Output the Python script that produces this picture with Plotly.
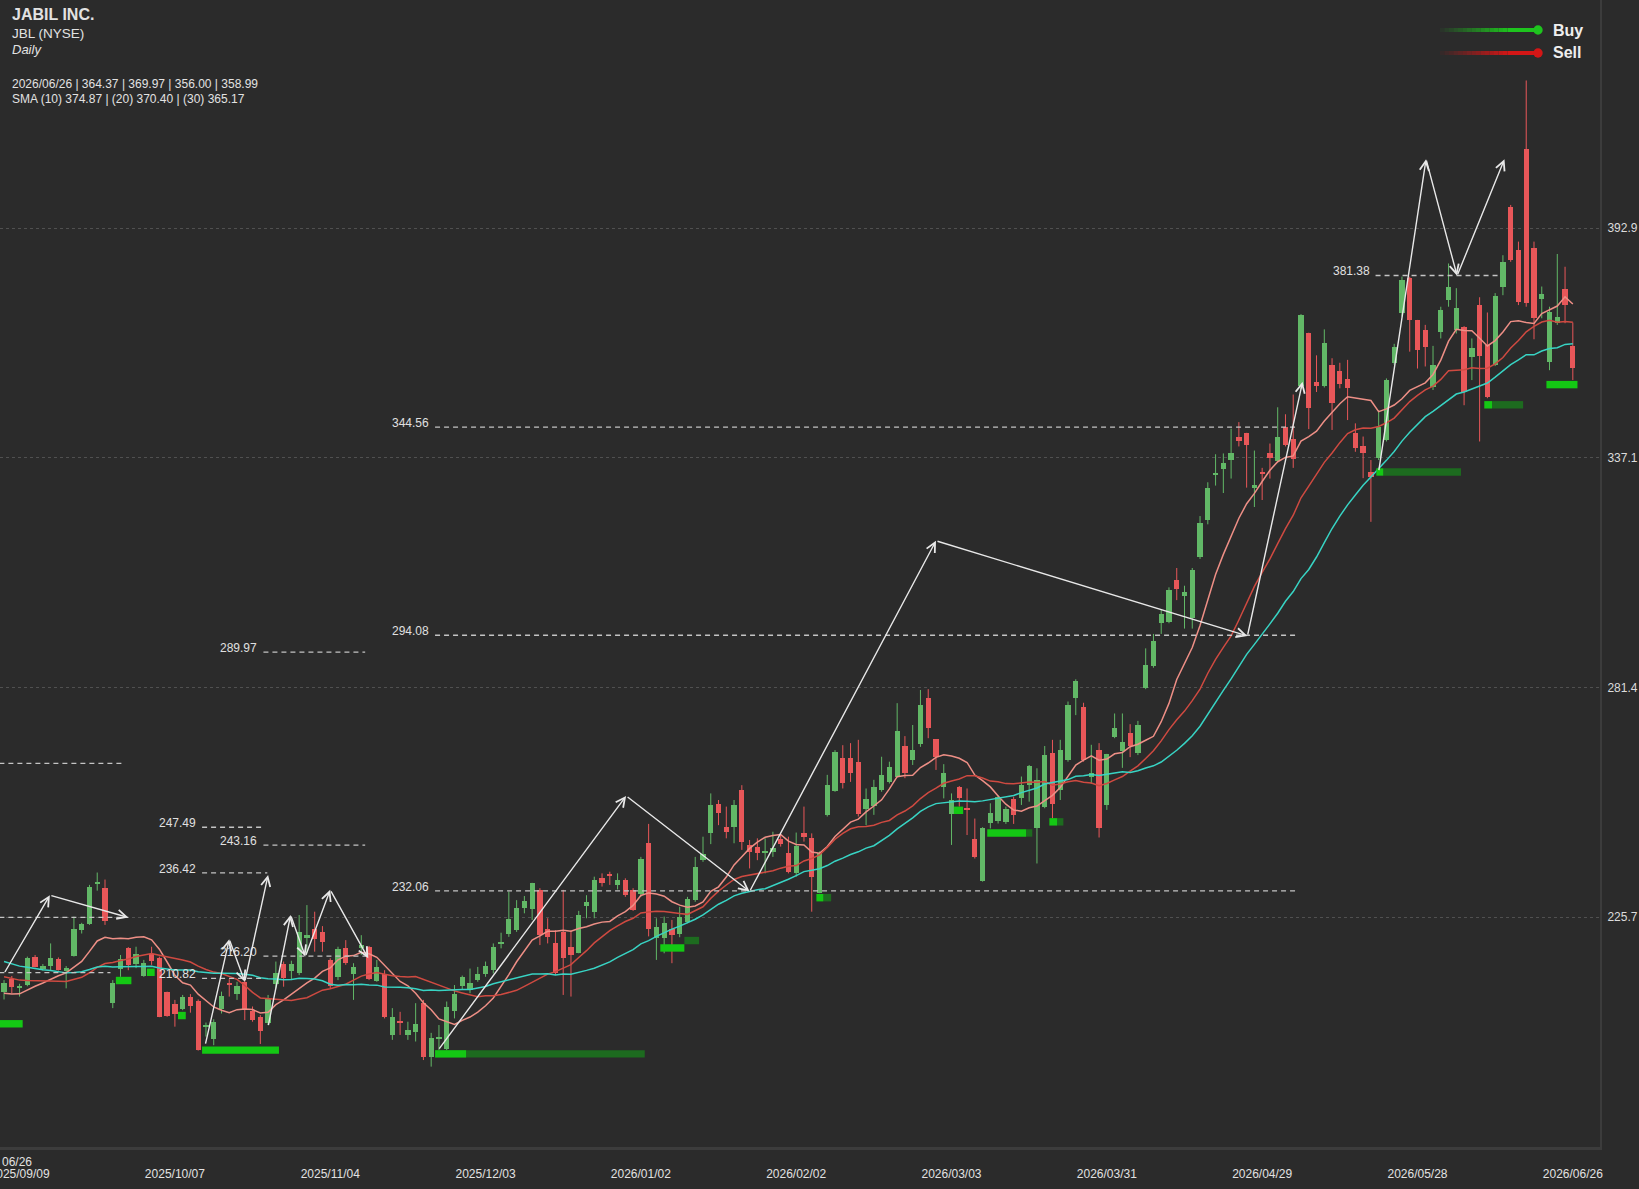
import numpy as np
import plotly.graph_objects as go

# ---------------- data ----------------
tick_labels = ["2025/09/09", "2025/10/07", "2025/11/04", "2025/12/03", "2026/01/02", "2026/02/02",
               "2026/03/03", "2026/03/31", "2026/04/29", "2026/05/28", "2026/06/26"]
tick_positions = [2, 22, 42, 62, 82, 102, 122, 142, 162, 182, 202]
price_ticks = [225.7, 281.4, 337.1, 392.9]
price_tick_text = ["225.7", "281.4", "337.1", "392.9"]

opens = [
    207.6, 210.6, 208.4, 209.2, 216.1, 213.0, 213.8, 215.4, 212.6, 216.2,
    222.6, 224.0, 233.6, 232.7, 204.9, 213.0, 218.1, 214.3, 211.4, 216.7,
    215.7, 207.4, 204.6, 203.5, 206.4, 205.4, 199.0, 196.0, 203.3, 209.8,
    207.0, 210.0, 203.0, 201.4, 199.9, 209.5, 214.3, 212.7, 212.2, 220.5,
    222.7, 222.1, 215.3, 211.2, 218.3, 211.9, 218.1, 218.4, 210.3, 211.9,
    197.1, 200.5, 197.1, 197.9, 204.8, 191.8, 196.0, 193.8, 203.0, 209.0,
    208.0, 210.4, 211.9, 212.8, 219.2, 221.7, 222.6, 228.0, 227.6, 232.3,
    222.9, 219.5, 222.1, 218.5, 217.0, 228.4, 227.0, 235.1, 236.1, 233.5,
    234.7, 232.3, 231.4, 243.6, 220.5, 220.5, 222.7, 221.7, 224.6, 229.8,
    239.5, 246.0, 253.1, 247.5, 247.5, 256.5, 243.2, 242.8, 241.3, 241.6,
    244.6, 241.2, 236.3, 246.2, 244.8, 231.5, 250.5, 256.4, 264.2, 264.2,
    263.4, 251.8, 252.6, 256.5, 258.5, 259.8, 267.2, 263.8, 267.7, 278.8,
    268.8, 257.3, 250.7, 257.3, 251.9, 244.6, 234.5, 248.6, 249.1, 248.8,
    254.3, 254.5, 257.7, 247.2, 252.5, 265.4, 256.5, 263.8, 278.8, 276.7,
    259.8, 266.2, 252.8, 269.5, 266.1, 270.4, 265.5, 281.4, 286.6, 297.0,
    297.3, 307.6, 303.7, 298.3, 313.0, 322.1, 333.0, 334.5, 336.6, 342.2,
    343.2, 329.7, 333.8, 338.2, 336.4, 344.7, 341.6, 354.6, 367.5, 355.5,
    354.6, 359.7, 358.3, 356.2, 343.1, 340.0, 333.8, 337.0, 341.4, 360.1,
    372.2, 380.7, 370.6, 368.2, 354.4, 367.7, 375.4, 368.1, 369.0, 361.7,
    374.2, 364.5, 359.7, 378.7, 398.1, 387.6, 412.0, 388.0, 375.6, 360.5,
    369.8, 378.0, 364.37,
]
highs = [
    210.4, 211.4, 209.5, 216.1, 216.5, 214.3, 219.3, 215.9, 213.8, 225.8,
    224.3, 233.5, 236.5, 234.8, 210.4, 216.5, 218.4, 218.5, 215.3, 218.5,
    216.1, 207.6, 205.6, 206.8, 207.0, 205.7, 200.1, 200.9, 207.6, 210.6,
    210.0, 210.6, 204.0, 201.9, 206.8, 214.9, 214.9, 215.1, 226.2, 228.6,
    227.0, 223.5, 215.7, 218.5, 220.1, 214.5, 221.3, 218.7, 215.3, 212.8,
    203.6, 202.7, 200.3, 204.8, 205.6, 197.6, 199.5, 205.2, 209.2, 211.5,
    213.2, 213.6, 214.9, 219.3, 221.9, 231.9, 229.8, 230.8, 234.0, 232.7,
    225.4, 222.5, 232.3, 222.5, 227.2, 231.0, 235.5, 236.3, 236.7, 236.3,
    235.1, 232.7, 240.3, 248.3, 225.4, 225.8, 225.0, 228.2, 230.6, 240.3,
    245.2, 255.7, 254.1, 252.5, 254.1, 257.7, 244.4, 244.8, 244.8, 246.4,
    245.6, 245.2, 246.2, 252.5, 246.0, 241.6, 260.2, 266.2, 267.4, 267.9,
    268.7, 256.9, 259.0, 264.6, 263.4, 277.6, 269.6, 272.3, 280.8, 281.0,
    268.8, 262.8, 255.7, 257.5, 256.9, 249.6, 247.5, 253.3, 255.3, 252.5,
    254.9, 259.8, 262.6, 261.8, 267.2, 268.7, 268.7, 278.0, 283.4, 277.7,
    267.5, 267.9, 265.3, 275.1, 275.1, 272.5, 273.3, 290.9, 294.4, 300.4,
    305.7, 310.4, 306.1, 310.4, 323.0, 331.2, 338.0, 338.2, 344.2, 345.8,
    343.2, 338.9, 334.7, 340.6, 349.4, 347.7, 352.5, 372.0, 367.5, 362.0,
    368.3, 361.3, 360.2, 360.9, 345.5, 342.3, 336.6, 348.7, 356.4, 364.8,
    381.1, 381.1, 370.6, 369.4, 364.3, 373.8, 384.3, 378.3, 369.1, 366.1,
    376.1, 372.4, 377.1, 386.3, 398.5, 389.6, 428.7, 389.6, 378.7, 373.8,
    386.6, 383.5, 369.97,
]
lows = [
    205.7, 207.2, 206.4, 208.9, 213.5, 212.7, 212.8, 212.7, 208.4, 216.1,
    221.7, 223.8, 232.1, 223.8, 203.6, 211.2, 212.8, 213.3, 211.2, 214.1,
    201.4, 201.5, 199.1, 203.1, 202.5, 193.3, 196.7, 194.6, 202.3, 206.4,
    205.6, 200.7, 200.3, 194.9, 199.5, 208.4, 208.8, 210.4, 211.6, 216.9,
    217.3, 217.3, 208.4, 210.4, 214.1, 205.6, 216.5, 210.4, 210.0, 201.1,
    195.9, 197.1, 195.9, 195.5, 191.0, 189.4, 193.4, 193.4, 201.1, 208.0,
    207.2, 210.0, 211.2, 212.0, 218.1, 220.9, 222.1, 226.6, 225.0, 218.9,
    219.3, 211.6, 206.8, 206.4, 216.9, 225.4, 225.4, 233.1, 233.5, 232.4,
    230.6, 227.2, 230.6, 221.0, 215.3, 216.9, 214.5, 220.8, 224.2, 229.4,
    239.1, 243.4, 248.0, 244.8, 243.6, 242.0, 237.5, 239.5, 236.3, 240.3,
    242.8, 236.3, 235.5, 244.0, 227.0, 231.5, 250.1, 256.1, 256.9, 258.5,
    250.1, 248.0, 250.5, 256.1, 258.1, 259.6, 259.4, 262.6, 267.0, 269.1,
    261.4, 254.5, 243.2, 252.5, 245.6, 239.9, 234.3, 247.2, 248.4, 248.3,
    248.3, 252.9, 253.7, 238.7, 252.1, 249.6, 254.1, 263.4, 274.7, 263.4,
    258.0, 245.0, 251.7, 269.1, 261.9, 264.5, 265.0, 281.0, 286.2, 294.4,
    297.0, 302.6, 295.7, 295.7, 312.6, 321.0, 330.4, 328.6, 332.1, 339.9,
    329.9, 325.2, 326.9, 332.1, 336.4, 339.9, 334.7, 353.8, 344.1, 353.1,
    354.2, 343.9, 354.0, 346.3, 338.6, 332.2, 321.6, 336.6, 341.1, 359.7,
    371.4, 362.9, 358.8, 359.3, 353.6, 366.1, 373.8, 367.3, 349.9, 356.0,
    341.1, 351.6, 359.4, 376.6, 384.7, 374.2, 373.8, 365.9, 371.0, 358.4,
    369.4, 369.8, 356.00,
]
closes = [
    209.8, 208.8, 208.9, 215.7, 213.7, 213.8, 215.7, 212.8, 213.4, 222.7,
    224.0, 232.9, 234.3, 224.7, 209.8, 215.4, 214.1, 216.7, 214.6, 215.1,
    201.5, 201.7, 202.2, 206.4, 204.1, 193.4, 199.5, 200.3, 206.5, 209.2,
    209.0, 203.3, 200.7, 198.1, 205.7, 212.2, 210.8, 214.3, 222.1, 221.3,
    220.3, 219.7, 209.0, 217.9, 214.5, 213.5, 218.9, 210.6, 213.5, 201.4,
    201.5, 199.9, 198.4, 199.7, 191.8, 196.3, 196.7, 203.8, 207.0, 211.2,
    209.6, 211.9, 213.8, 218.5, 219.7, 225.2, 227.8, 229.6, 233.9, 221.3,
    220.8, 212.2, 215.7, 216.5, 226.2, 229.4, 234.7, 234.0, 235.6, 234.7,
    231.0, 227.4, 239.9, 222.7, 223.4, 224.2, 221.3, 225.8, 230.2, 237.9,
    241.0, 252.9, 250.9, 246.4, 252.9, 244.0, 241.6, 241.2, 241.8, 242.4,
    243.4, 236.7, 242.9, 245.2, 235.5, 241.2, 257.7, 265.8, 258.3, 260.6,
    250.7, 254.3, 257.2, 260.2, 262.0, 270.9, 260.6, 266.2, 277.2, 271.5,
    264.5, 260.7, 254.1, 254.7, 251.7, 240.3, 247.2, 250.9, 254.9, 251.8,
    250.5, 257.7, 262.3, 259.0, 265.0, 253.1, 266.2, 277.2, 283.1, 263.8,
    260.7, 247.2, 265.2, 271.6, 268.1, 267.1, 272.3, 286.9, 292.7, 299.2,
    305.1, 305.4, 304.5, 309.8, 321.3, 329.9, 333.2, 336.0, 338.3, 341.2,
    340.3, 330.5, 333.3, 337.1, 342.1, 340.3, 336.9, 371.8, 349.3, 354.6,
    365.0, 350.5, 355.0, 354.0, 339.4, 338.2, 332.6, 344.7, 356.0, 364.1,
    380.3, 370.6, 363.3, 364.1, 359.7, 373.0, 378.7, 373.4, 353.2, 363.7,
    361.8, 352.0, 376.3, 384.7, 385.1, 375.0, 374.6, 371.0, 377.0, 372.6,
    371.4, 374.2, 358.99,
]
# closes before the visible window (only feed the moving averages)
warmup_closes = [
    226.5, 224.8, 223.1, 224.0, 222.6, 221.3, 222.8, 220.4, 219.7, 218.1,
    217.6, 216.2, 218.0, 215.4, 214.1, 215.8, 213.9, 214.6, 212.7, 213.7,
    210.8, 208.3, 206.1, 204.9, 205.7, 206.2, 205.0, 206.4, 208.8,
]
sma_periods = [10, 20, 30]

# horizontal price levels (dashed)
level_price = [289.97, 243.16, 216.20, 247.49, 236.42, 210.82, 294.08, 344.56, 232.06, 381.38, 263.0, 225.6, 212.2]
level_start = [33.4, 33.4, 33.4, 25.5, 25.5, 25.5, 55.5, 55.5, 55.5, 176.6, -0.6, -0.6, -0.6]
level_end = [46.5, 46.5, 46.7, 33.2, 33.9, 33.4, 166.5, 166.5, 166.5, 192.7, 15.3, 16.0, 13.7]
level_label = ["289.97", "243.16", "216.20", "247.49", "236.42", "210.82", "294.08", "344.56", "232.06", "381.38", "", "", ""]

# zig-zag pivot paths
zigzag_x = [
    [0.0, 5.9, 16.0],
    [25.9, 29.0, 31.0, 34.0],
    [34.0, 36.9, 38.8, 42.0, 46.9],
    [55.9, 80.1, 96.0, 120.0, 160.1, 167.2],
    [177.0, 183.1, 187.1, 193.2],
]
zigzag_y = [
    [212.0, 231.0, 225.6],
    [194.6, 220.3, 210.0, 235.9],
    [199.1, 226.2, 216.1, 232.3, 215.7],
    [193.4, 255.1, 231.9, 317.0, 293.9, 355.6],
    [333.8, 409.6, 381.3, 409.6],
]

# support zones (bright part, then faded extension)
zone_x0 = [-0.6, 14.4, 18.4, 22.4, 25.5, 55.5, 84.5, 104.6, 122.3, 126.6, 134.6, 176.7, 190.6, 198.6]
zone_x1 = [2.4, 16.4, 19.4, 23.4, 35.4, 59.5, 87.6, 105.5, 123.5, 131.6, 135.6, 177.6, 191.6, 202.6]
zone_price = [199.8, 210.3, 212.3, 201.8, 193.4, 192.5, 218.2, 230.4, 251.6, 246.1, 248.8, 333.7, 350.0, 354.9]
fade_x0 = [59.5, 87.6, 105.5, 131.6, 135.6, 177.6, 191.6]
fade_x1 = [82.5, 89.5, 106.5, 132.4, 136.4, 187.6, 195.6]
fade_price = [192.5, 220.0, 230.4, 246.1, 248.8, 333.7, 350.0]

# ---------------- styling ----------------
W, H = 1639, 1189
PW, PH = 1600, 1147
BG = "#2b2b2b"
UP = "#62b867"
DN = "#e85759"
SMA_COLORS = ["#ee8f86", "#cf4a41", "#38d4c4"]
FONT = "Liberation Sans, Arial, sans-serif"
TXT = "#e2e2e2"
X_RANGE = [-0.52, 205.5]
Y_RANGE = [169.9, 448.23]


def px(xp):
    return xp / PW


def py(yp):
    return 1 - yp / PH


o = np.array(opens)
h = np.array(highs)
l = np.array(lows)
c = np.array(closes)
xs = np.arange(len(o))
up = c >= o

body_base = np.minimum(o, c)
body_len = np.maximum(np.abs(c - o), 0.35)

fig = go.Figure()

# wicks
for mask, col in ((up, UP), (~up, DN)):
    wx, wy = [], []
    for j in xs[mask]:
        wx += [j, j, None]
        wy += [l[j], h[j], None]
    fig.add_trace(go.Scatter(x=wx, y=wy, mode="lines", line=dict(color=col, width=1),
                             hoverinfo="skip", showlegend=False))
# bodies
for mask, col in ((up, UP), (~up, DN)):
    fig.add_trace(go.Bar(x=xs[mask], y=body_len[mask], base=body_base[mask], width=0.68,
                         marker=dict(color=col, line=dict(width=0)), showlegend=False))

# moving averages
all_c = np.array(warmup_closes + closes)
nw = len(warmup_closes)
for p, col in zip(sma_periods, SMA_COLORS):
    s = np.convolve(all_c, np.ones(p) / p, mode="valid")
    vals = s[nw - p + 1: nw - p + 1 + len(closes)]
    fig.add_trace(go.Scatter(x=xs, y=vals, mode="lines", line=dict(color=col, width=1.5),
                             hoverinfo="skip", showlegend=False))

shapes = []
annotations = []

# dashed levels
for pr, x0, x1, lab in zip(level_price, level_start, level_end, level_label):
    shapes.append(dict(type="line", xref="x", yref="y", x0=x0, x1=x1, y0=pr, y1=pr,
                       line=dict(color="#c4c4c4", width=1.3, dash="5px,4px"), layer="above"))
    if lab:
        annotations.append(dict(x=x0, y=pr, xref="x", yref="y", text=lab, showarrow=False,
                                xanchor="right", yanchor="middle", xshift=-4, yshift=4,
                                font=dict(size=12, color="#e0e0e0", family=FONT)))

# zones
for x0, x1, pr in zip(fade_x0, fade_x1, fade_price):
    shapes.append(dict(type="rect", xref="x", yref="y", x0=x0, x1=x1, y0=pr - 0.9, y1=pr + 0.9,
                       fillcolor="#1d6b1f", line=dict(width=0), layer="above"))
for x0, x1, pr in zip(zone_x0, zone_x1, zone_price):
    shapes.append(dict(type="rect", xref="x", yref="y", x0=x0, x1=x1, y0=pr - 0.9, y1=pr + 0.9,
                       fillcolor="#14c814", line=dict(width=0), layer="above"))

# zig-zag arrows
for zx, zy in zip(zigzag_x, zigzag_y):
    for k in range(1, len(zx)):
        annotations.append(dict(x=zx[k], y=zy[k], ax=zx[k - 1], ay=zy[k - 1], xref="x", yref="y",
                                axref="x", ayref="y", text="", showarrow=True, arrowhead=5,
                                arrowsize=1.3, arrowwidth=1.4, arrowcolor="#e8e8e8",
                                standoff=0, startstandoff=0))

# header texts
header = [
    ("<b>JABIL INC.</b>", 14, 16),
    ("JBL (NYSE)", 33, 13.5),
    ("<i>Daily</i>", 50, 13),
    ("2026/06/26 | 364.37 | 369.97 | 356.00 | 358.99", 84, 12),
    ("SMA (10) 374.87 | (20) 370.40 | (30) 365.17", 99, 12),
]
for txt, yy, fs in header:
    annotations.append(dict(x=px(10), y=py(yy), xref="paper", yref="paper", text=txt, showarrow=False,
                            xanchor="left", yanchor="middle", font=dict(size=fs, color=TXT, family=FONT)))

# Buy / Sell legend
for name, col, rgb, yy in (("Buy", "#1ec41e", (30, 196, 30), 30), ("Sell", "#d41616", (212, 22, 22), 53)):
    nseg = 16
    xa, xb = 1440.0, 1512.0
    for k in range(nseg):
        x0 = xa + (xb - xa) * k / nseg
        x1 = xa + (xb - xa) * (k + 1) / nseg
        op = (k + 1) / nseg
        shapes.append(dict(type="line", xref="paper", yref="paper", x0=px(x0), x1=px(x1),
                           y0=py(yy), y1=py(yy),
                           line=dict(color=f"rgba({rgb[0]},{rgb[1]},{rgb[2]},{op:.3f})", width=4)))
    shapes.append(dict(type="line", xref="paper", yref="paper", x0=px(xb), x1=px(1538), y0=py(yy), y1=py(yy),
                       line=dict(color=col, width=4)))
    shapes.append(dict(type="circle", xref="paper", yref="paper", x0=px(1538 - 4.7), x1=px(1538 + 4.7),
                       y0=py(yy + 4.7), y1=py(yy - 4.7), fillcolor=col, line=dict(width=0)))
    annotations.append(dict(x=px(1551), y=py(yy), xref="paper", yref="paper", text=f"<b>{name}</b>",
                            showarrow=False, xanchor="left", yanchor="middle",
                            font=dict(size=16, color="#eeeeee", family=FONT)))

# small date label at bottom-left
annotations.append(dict(x=px(0), y=py(1162), xref="paper", yref="paper", text="06/26", showarrow=False,
                        xanchor="left", yanchor="middle", font=dict(size=12, color=TXT, family=FONT)))

fig.update_layout(
    width=W, height=H,
    margin=dict(l=0, r=W - PW, t=0, b=H - PH, pad=0, autoexpand=False),
    paper_bgcolor=BG, plot_bgcolor=BG,
    barmode="overlay", bargap=0,
    showlegend=False,
    shapes=shapes, annotations=annotations,
    font=dict(family=FONT, color=TXT, size=12),
    xaxis=dict(range=X_RANGE, tickvals=tick_positions, ticktext=tick_labels, showgrid=False,
               zeroline=False, ticks="outside", ticklen=14, tickcolor="rgba(0,0,0,0)",
               tickfont=dict(size=12, color=TXT, family=FONT), showline=True, linecolor="#3c3c3c",
               linewidth=3, ticklabeloverflow="allow", automargin=False, fixedrange=True),
    yaxis=dict(range=Y_RANGE, side="right", tickvals=price_ticks, ticktext=price_tick_text,
               showgrid=True, gridcolor="#505050", griddash="dot", gridwidth=1, zeroline=False,
               ticks="outside", ticklen=3, tickcolor="rgba(0,0,0,0)",
               tickfont=dict(size=12, color="#dcdcdc", family=FONT), showline=True,
               linecolor="#3c3c3c", linewidth=2, automargin=False, fixedrange=True),
)

fig.write_html("out.html")
